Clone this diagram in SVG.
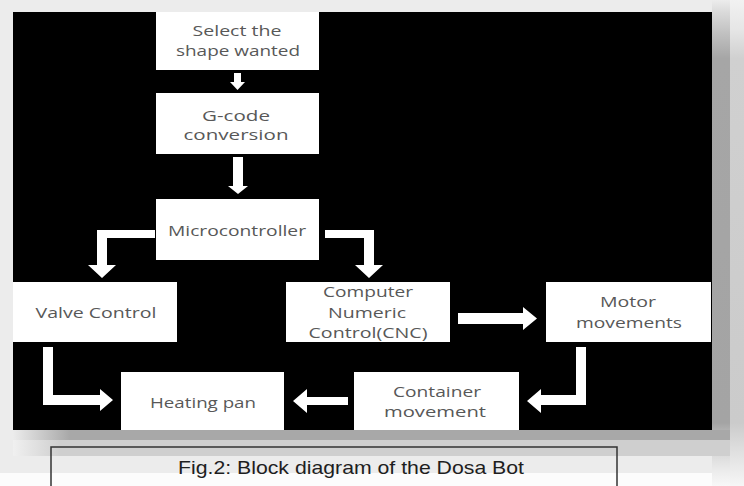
<svg xmlns="http://www.w3.org/2000/svg" width="744" height="486" viewBox="0 0 744 486">
<defs>
<style>
.box{fill:#ffffff;}
.t{font-family:"Open Sans","Lato","Liberation Sans",sans-serif;font-size:15px;fill:#585858;text-anchor:middle;}
.cap{font-family:"Liberation Sans","Arial",sans-serif;font-size:19px;fill:#1e1e1e;text-anchor:middle;}
.arr{fill:#ffffff;}
</style>
<linearGradient id="rb" x1="0" y1="0" x2="0" y2="1" gradientUnits="userSpaceOnUse" gradientTransform="scale(1,486)">
<stop offset="0" stop-color="#ececec"/>
<stop offset="0.025" stop-color="#dadada"/>
<stop offset="0.07" stop-color="#c0c0c0"/>
<stop offset="0.12" stop-color="#a6a6a6"/>
<stop offset="0.87" stop-color="#a4a4a4"/>
<stop offset="0.9" stop-color="#bebebe"/>
<stop offset="0.93" stop-color="#d8d8d8"/>
<stop offset="0.97" stop-color="#ececec"/>
<stop offset="1" stop-color="#f8f8f8"/>
</linearGradient>
<linearGradient id="rb2" x1="0" y1="0" x2="0" y2="1" gradientUnits="userSpaceOnUse" gradientTransform="scale(1,486)">
<stop offset="0" stop-color="#f2f2f2"/>
<stop offset="0.06" stop-color="#e6e6e6"/>
<stop offset="0.12" stop-color="#d0d0d0"/>
<stop offset="0.87" stop-color="#cbcbcb"/>
<stop offset="0.93" stop-color="#e0e0e0"/>
<stop offset="1" stop-color="#f6f6f6"/>
</linearGradient>
<linearGradient id="bl" x1="0" y1="0" x2="1" y2="0">
<stop offset="0" stop-color="#ececec"/>
<stop offset="1" stop-color="#a8a8a8"/>
</linearGradient>
<linearGradient id="bl2" x1="0" y1="0" x2="1" y2="0">
<stop offset="0" stop-color="#f0f0f0"/>
<stop offset="1" stop-color="#cfcfcf"/>
</linearGradient>
</defs>

<g id="background">
<rect x="0" y="0" width="744" height="486" fill="#ececec"/>
<rect x="0" y="473" width="744" height="13" fill="#fcfcfc"/>
<rect x="712" y="0" width="18" height="486" fill="url(#rb)"/>
<rect x="730" y="0" width="14" height="486" fill="url(#rb2)"/>
<rect x="70" y="430" width="660" height="10" fill="#a8a8a8"/>
<rect x="13" y="430" width="57" height="10" fill="url(#bl)"/>
<rect x="60" y="440" width="670" height="16" fill="#cfcfcf"/>
<rect x="13" y="440" width="47" height="16" fill="url(#bl2)"/>
<rect x="13" y="12" width="699" height="418" fill="#000000"/>
</g>

<g id="connectors">
<polygon class="arr" points="234,73 241,73 241,82 245,82 237.5,90 230,82 234,82"/>
<polygon class="arr" points="233,157 243,157 243,186 248,186 238,194 228,186 233,186"/>
<polygon class="arr" points="155,230 155,238 107,238 107,265 116,265 102,278 88,265 97,265 97,230"/>
<polygon class="arr" points="325,230 374,230 374,265 383,265 369,278 355,265 364,265 364,238 325,238"/>
<polygon class="arr" points="458,313 523,313 523,307 537,318.5 523,330 523,324 458,324"/>
<polygon class="arr" points="43,347 53,347 53,395 100,395 100,389 113,400 100,411 100,405 43,405"/>
<polygon class="arr" points="348,397 348,405 307,405 307,413 293,401 307,389 307,397"/>
<polygon class="arr" points="576,347 586,347 586,405 541,405 541,413 527,401 541,389 541,395 576,395"/>
</g>

<g id="n-select">
<rect class="box" x="156" y="12" width="163" height="58"/>
<text class="t" x="237" y="36" textLength="89" lengthAdjust="spacingAndGlyphs">Select the</text>
<text class="t" x="238" y="56" textLength="124" lengthAdjust="spacingAndGlyphs">shape wanted</text>
</g>

<g id="n-gcode">
<rect class="box" x="156" y="93" width="163" height="61"/>
<text class="t" x="236" y="121" textLength="68" lengthAdjust="spacingAndGlyphs">G-code</text>
<text class="t" x="236" y="140" textLength="105" lengthAdjust="spacingAndGlyphs">conversion</text>
</g>

<g id="n-micro">
<rect class="box" x="156" y="199" width="163" height="61"/>
<text class="t" x="237" y="236" textLength="138" lengthAdjust="spacingAndGlyphs">Microcontroller</text>
</g>

<g id="n-valve">
<rect class="box" x="13" y="282" width="164" height="60"/>
<text class="t" x="96" y="318" textLength="121" lengthAdjust="spacingAndGlyphs">Valve Control</text>
</g>

<g id="n-cnc">
<rect class="box" x="286" y="282" width="164" height="60"/>
<text class="t" x="368" y="297" textLength="90" lengthAdjust="spacingAndGlyphs">Computer</text>
<text class="t" x="367" y="318" textLength="78" lengthAdjust="spacingAndGlyphs">Numeric</text>
<text class="t" x="368" y="338" textLength="119" lengthAdjust="spacingAndGlyphs">Control(CNC)</text>
</g>

<g id="n-motor">
<rect class="box" x="546" y="282" width="165" height="60"/>
<text class="t" x="628" y="307" textLength="56" lengthAdjust="spacingAndGlyphs">Motor</text>
<text class="t" x="629" y="328" textLength="106" lengthAdjust="spacingAndGlyphs">movements</text>
</g>

<g id="n-heating">
<rect class="box" x="121" y="372" width="163" height="58"/>
<text class="t" x="203" y="408" textLength="106" lengthAdjust="spacingAndGlyphs">Heating pan</text>
</g>

<g id="n-container">
<rect class="box" x="354" y="372" width="165" height="58"/>
<text class="t" x="437" y="397" textLength="88" lengthAdjust="spacingAndGlyphs">Container</text>
<text class="t" x="435" y="417" textLength="102" lengthAdjust="spacingAndGlyphs">movement</text>
</g>

<g id="caption">
<rect x="51" y="447" width="566" height="45" fill="none" stroke="#333333" stroke-width="1.5"/>
<text class="cap" x="351" y="474" textLength="346" lengthAdjust="spacingAndGlyphs">Fig.2: Block diagram of the Dosa Bot</text>
</g>
</svg>
